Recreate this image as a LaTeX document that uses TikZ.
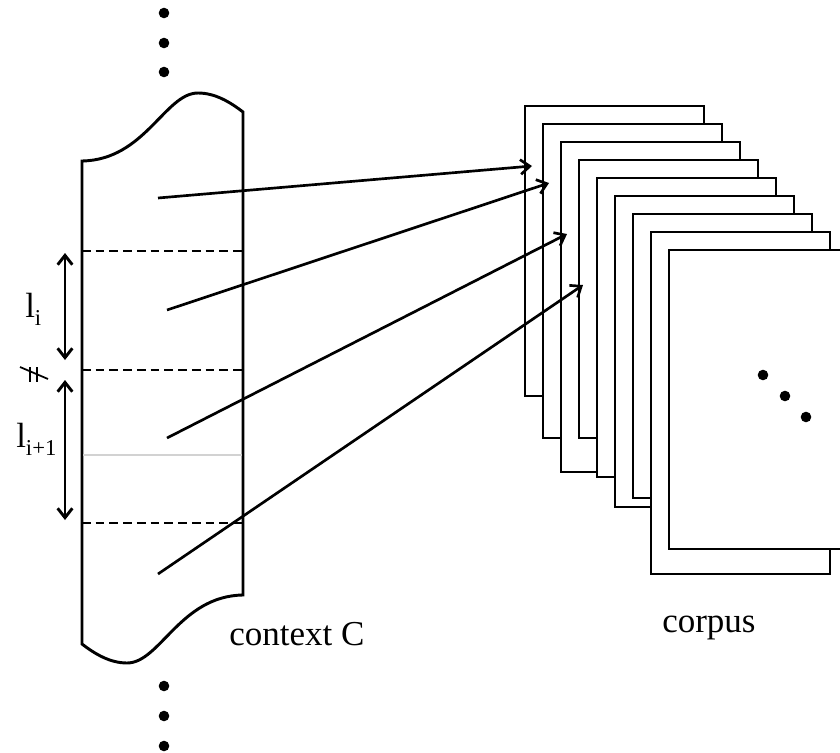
\documentclass[tikz,border=0pt]{standalone}
\usepackage{fontspec}
\setmainfont{Liberation Serif}
\usetikzlibrary{arrows.meta}

\tikzset{
  outline/.style={line width=2.2pt, line join=miter},
  sheet/.style={outline, fill=white},
  divider/.style={line width=1.3pt, dash pattern=on 6.5pt off 3.8pt},
  conn/.style={line width=2pt, -{Straight Barb[length=7pt,width=11pt,line width=2pt]}},
  span/.style={line width=2.2pt, {Straight Barb[length=7pt,width=11pt,line width=2.2pt]}-{Straight Barb[length=7pt,width=11pt,line width=2.2pt]}},
  dotmark/.style={fill=black},
  lbl/.style={inner sep=0pt, font=\fontsize{26.25}{30}\selectfont}
}
\newcommand{\subtxt}[1]{\raisebox{-0.23em}{\fontsize{17}{17}\selectfont #1}}

\begin{document}
\begin{tikzpicture}[x=0.75pt, y=-0.75pt]
\useasboundingbox (0,0) rectangle (840,753);
\clip (0,0) rectangle (840,753);

% ---- corpus: stack of sheets, back to front ----
\foreach \i/\b in {0/396, 1/438, 2/472, 3/438, 4/477, 5/507, 6/498, 7/574, 8/549} {
  \draw[sheet] ({525+18*\i},{106+18*\i}) rectangle ({704+18*\i},\b);
}
% dots on the front sheet
\foreach \p in {(763,375),(785,396),(806,417)} \fill[dotmark] \p circle[radius=5.3];

% ---- context C: scroll ----
\draw[outline]
  (82,161) .. controls (145,160) and (165,93) .. (198,93)
           .. controls (215,93) and (230,102) .. (243,112)
  -- (243,595) .. controls (180,596) and (160,663) .. (127,663)
           .. controls (110,663) and (95,654) .. (82,644)
  -- cycle;

% segment boundaries
\draw[divider] (82,251) -- (243,251);
\draw[divider] (82,370) -- (243,370);
\draw[divider] (82,523) -- (243,523);
\draw[gray!35, line width=1.1pt] (83,455) -- (242,455);

% dots above and below the scroll
\foreach \y in {13,43,72,686,716,746} \fill[dotmark] (164,\y) circle[radius=5.3];

% ---- segment lengths ----
\coordinate (la) at (65,253);
\coordinate (lb) at (65,360);
\coordinate (lc) at (65,380);
\coordinate (ld) at (65,520);
\draw[span] (la) -- (lb);
\draw[span] (lc) -- (ld);

\node[lbl, anchor=base west] (li) at (25,317) {l\subtxt{i}};
\node[lbl, anchor=base west] (lii) at (16,447) {l\subtxt{i+1}};

% "not equal" mark between the two lengths
\draw[line width=1.5pt] (30,367) -- (30,382);
\draw[line width=1.5pt] (37,367) -- (37,382);
\draw[line width=1.3pt] (20,367) -- (48,379);

% ---- mapping of segments to corpus documents ----
\coordinate (s1) at (158,198);
\coordinate (s2) at (167,310);
\coordinate (s3) at (167,438);
\coordinate (s4) at (158,574);
\coordinate (t1) at (532,166);
\coordinate (t2) at (549,183);
\coordinate (t3) at (567,234);
\coordinate (t4) at (583,285);
\draw[conn] (s1) -- (t1);
\draw[conn] (s2) -- (t2);
\draw[conn] (s3) -- (t3);
\draw[conn] (s4) -- (t4);

% ---- captions ----
\node[lbl, anchor=base west] (ctx) at (229,645) {context C};
\node[lbl, anchor=base west] (corp) at (662,632) {corpus};
\end{tikzpicture}
\end{document}
